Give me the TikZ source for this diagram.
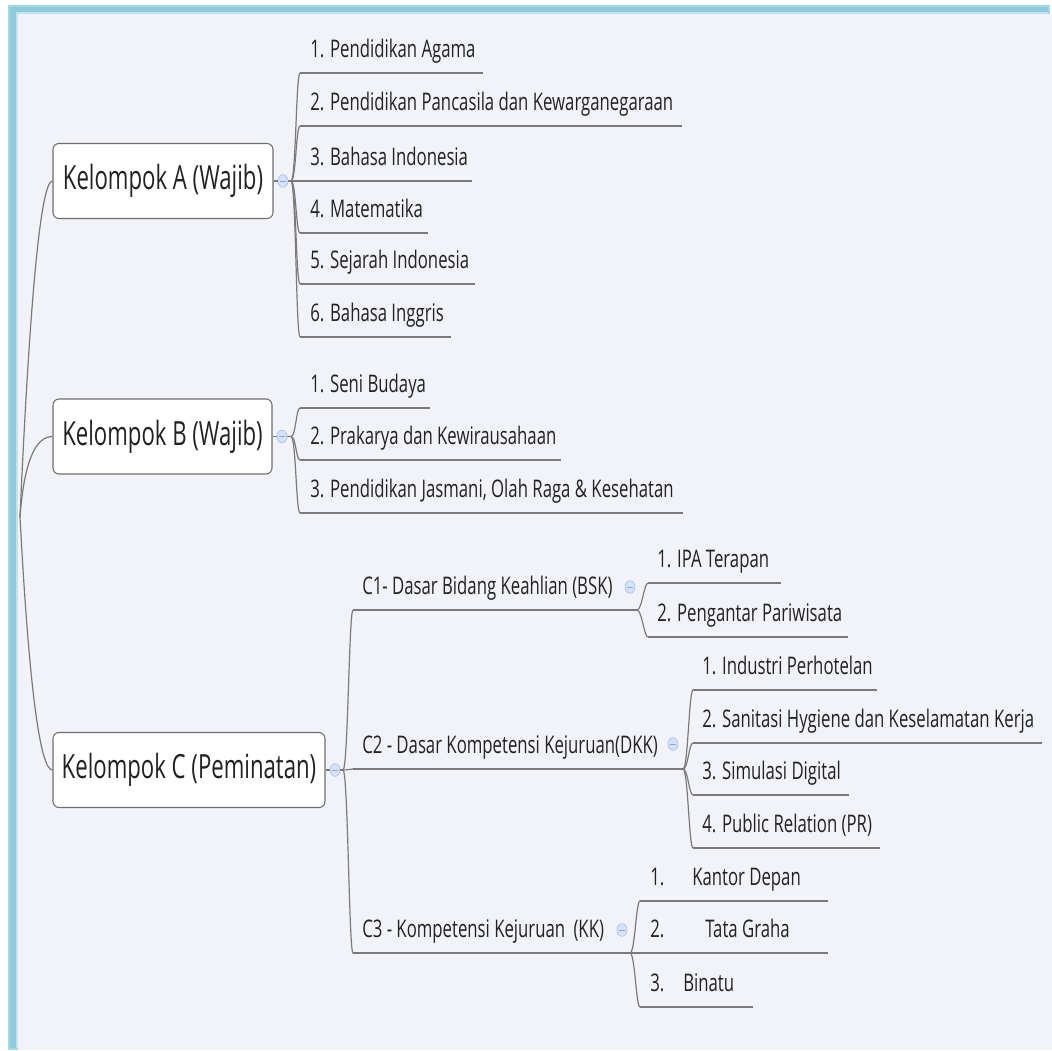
\documentclass[tikz,border=0pt]{standalone}
\usepackage{fontspec}
\setmainfont{Open Sans}[FakeStretch=0.69]
\newfontfamily\kfam{Open Sans}[FakeStretch=0.665]
\usetikzlibrary{shapes.geometric}

\definecolor{pagec}{HTML}{FFFFFF}
\definecolor{bgc}{HTML}{F1F3F8}
\definecolor{framec}{HTML}{8DCBDD}
\definecolor{frameedge}{HTML}{A6D7E5}
\definecolor{framelite}{HTML}{BFE4EE}
\definecolor{linec}{HTML}{7A7A7A}
\definecolor{boxc}{HTML}{6E6E6E}
\definecolor{txtc}{HTML}{222222}
\definecolor{foldf}{HTML}{D3E2FA}
\definecolor{foldb}{HTML}{A7C3EE}
\definecolor{foldm}{HTML}{8EA6CC}

\newlength\px
\setlength\px{0.75pt}
\newcommand\kfont{\kfam\fontsize{25pt}{28pt}\selectfont}
\newcommand\lfont{\fontsize{18.2pt}{20pt}\selectfont}

\tikzset{
  conn/.style={draw=linec, line width=0.9pt},
  uline/.style={draw=linec, line width=1.1pt},
  kbox/.style={draw=boxc, fill=white, rounded corners=4.5pt, line width=0.8pt,
    minimum height=56.25pt, inner sep=0pt, font=\kfont, text=txtc},
  leaf/.style={anchor=base west, inner sep=0pt, font=\lfont, text=txtc},
  fold/.style={ellipse, draw=foldb, fill=foldf, line width=0.5pt,
    minimum width=7.5pt, minimum height=9.5pt, inner sep=0pt,
    path picture={\draw[foldm, line width=0.6pt]
      ([xshift=-2pt]path picture bounding box.center) --
      ([xshift=2pt]path picture bounding box.center);}},
}

\begin{document}
\begin{tikzpicture}[x=0.75pt, y=-0.75pt]
% page, canvas and window frame
\useasboundingbox (0,0) rectangle (1052,1050);
\fill[pagec] (0,0) rectangle (1052,1050);
\fill[bgc] (18,14) rectangle (1052,1050);
\fill[frameedge] (8,5) rectangle (18,1050);
\fill[frameedge] (8,5) rectangle (1050,14);
\fill[framec] (10,7) rectangle (16,1048);
\fill[framec] (10,7) rectangle (1048,12);
\fill[framelite] (16,12) rectangle (18,1048);
\fill[framelite] (16,12) rectangle (1048,14);

% root and the three groups
\coordinate (R) at (20,517);
\node[kbox, minimum width=165pt] (ka) at (163,181) {Kelompok A (Wajib)};
\node[kbox, minimum width=164.25pt] (kb) at (162.5,436.5) {Kelompok B (Wajib)};
\node[kbox, minimum width=204pt] (kc) at (189,770) {Kelompok C (Peminatan)};

\draw[conn] (R) .. controls (30,294) and (41,181) .. (ka.west);
\draw[conn] (R) .. controls (24,463) and (35,436.5) .. (kb.west);
\draw[conn] (R) .. controls (29,686) and (40,770) .. (kc.west);

\node[fold] (fa) at (283,181) {};
\node[fold] (fb) at (282,436.5) {};
\node[fold] (fc) at (335,770) {};
\coordinate (JA) at (291,181);
\coordinate (JB) at (291,436.5);
\coordinate (JC) at (343,770);
\draw[conn] (ka.east) -- (fa.west);
\draw[conn] (fa.east) -- (JA);
\draw[conn] (kb.east) -- (fb.west);
\draw[conn] (fb.east) -- (JB);
\draw[conn] (kc.east) -- (fc.west);
\draw[conn] (fc.east) -- (JC);

% group A subjects
\foreach \n/\y/\e/\t in {
  a1/73/483/{1. Pendidikan Agama},
  a2/126/682/{2. Pendidikan Pancasila dan Kewarganegaraan},
  a3/181/472/{3. Bahasa Indonesia},
  a4/233/428/{4. Matematika},
  a5/284/475/{5. Sejarah Indonesia},
  a6/337/451/{6. Bahasa Inggris}}{
  \coordinate (\n-s) at (300,\y);
  \coordinate (\n-e) at (\e,\y);
  \node[leaf] (\n) at (310,\y-16) {\t};
  \draw[uline] (\n-s) -- (\n-e);
  \draw[conn] (JA) .. controls +(5,0) and +(-4,0) .. (\n-s);
}

% group B subjects
\foreach \n/\y/\e/\t in {
  b1/408/430/{1. Seni Budaya},
  b2/460/561/{2. Prakarya dan Kewirausahaan},
  b3/513/683/{3. Pendidikan Jasmani, Olah Raga \& Kesehatan}}{
  \coordinate (\n-s) at (300,\y);
  \coordinate (\n-e) at (\e,\y);
  \node[leaf] (\n) at (310,\y-16) {\t};
  \draw[uline] (\n-s) -- (\n-e);
  \draw[conn] (JB) .. controls +(5,0) and +(-4,0) .. (\n-s);
}

% group C: three sub-groups
\foreach \n/\y/\e/\t in {
  c1/610/637/{C1- Dasar Bidang Keahlian (BSK)},
  c2/769/683/{C2 - Dasar Kompetensi Kejuruan(DKK)},
  c3/953/630/{C3 - Kompetensi Kejuruan\hspace{4\px} (KK)}}{
  \coordinate (\n-s) at (353,\y);
  \coordinate (\n-e) at (\e,\y);
  \node[leaf] (\n) at (362,\y-16) {\t};
  \draw[uline] (\n-s) -- (\n-e);
  \draw[conn] (JC) .. controls +(5,0) and +(-4,0) .. (\n-s);
}
\node[fold] (f1) at (630,587) {};
\node[fold] (f2) at (673,744) {};
\node[fold] (f3) at (622,930) {};

% C1 subjects
\foreach \n/\y/\e/\t in {
  c11/583/781/{1. IPA Terapan},
  c12/637/848/{2. Pengantar Pariwisata}}{
  \coordinate (\n-s) at (648,\y);
  \coordinate (\n-e) at (\e,\y);
  \node[leaf] (\n) at (657,\y-16) {\t};
  \draw[uline] (\n-s) -- (\n-e);
  \draw[conn] (c1-e) .. controls +(5,0) and +(-4,0) .. (\n-s);
}

% C2 subjects
\foreach \n/\y/\e/\t in {
  c21/690/877/{1. Industri Perhotelan},
  c22/743/1042/{2. Sanitasi Hygiene dan Keselamatan Kerja},
  c23/795/849/{3. Simulasi Digital},
  c24/848/880/{4. Public Relation (PR)}}{
  \coordinate (\n-s) at (693,\y);
  \coordinate (\n-e) at (\e,\y);
  \node[leaf] (\n) at (702,\y-16) {\t};
  \draw[uline] (\n-s) -- (\n-e);
  \draw[conn] (c2-e) .. controls +(5,0) and +(-4,0) .. (\n-s);
}

% C3 subjects
\foreach \n/\y/\e in {c31/901/828, c32/953/828, c33/1007/753}{
  \coordinate (\n-s) at (640,\y);
  \coordinate (\n-e) at (\e,\y);
  \draw[uline] (\n-s) -- (\n-e);
  \draw[conn] (c3-e) .. controls +(5,0) and +(-4,0) .. (\n-s);
}
\node[leaf] (c31) at (650,885) {\makebox[42\px][l]{1.}Kantor Depan};
\node[leaf] (c32) at (650,937) {\makebox[55\px][l]{2.}Tata Graha};
\node[leaf] (c33) at (650,991) {\makebox[33\px][l]{3.}Binatu};
\end{tikzpicture}
\end{document}
